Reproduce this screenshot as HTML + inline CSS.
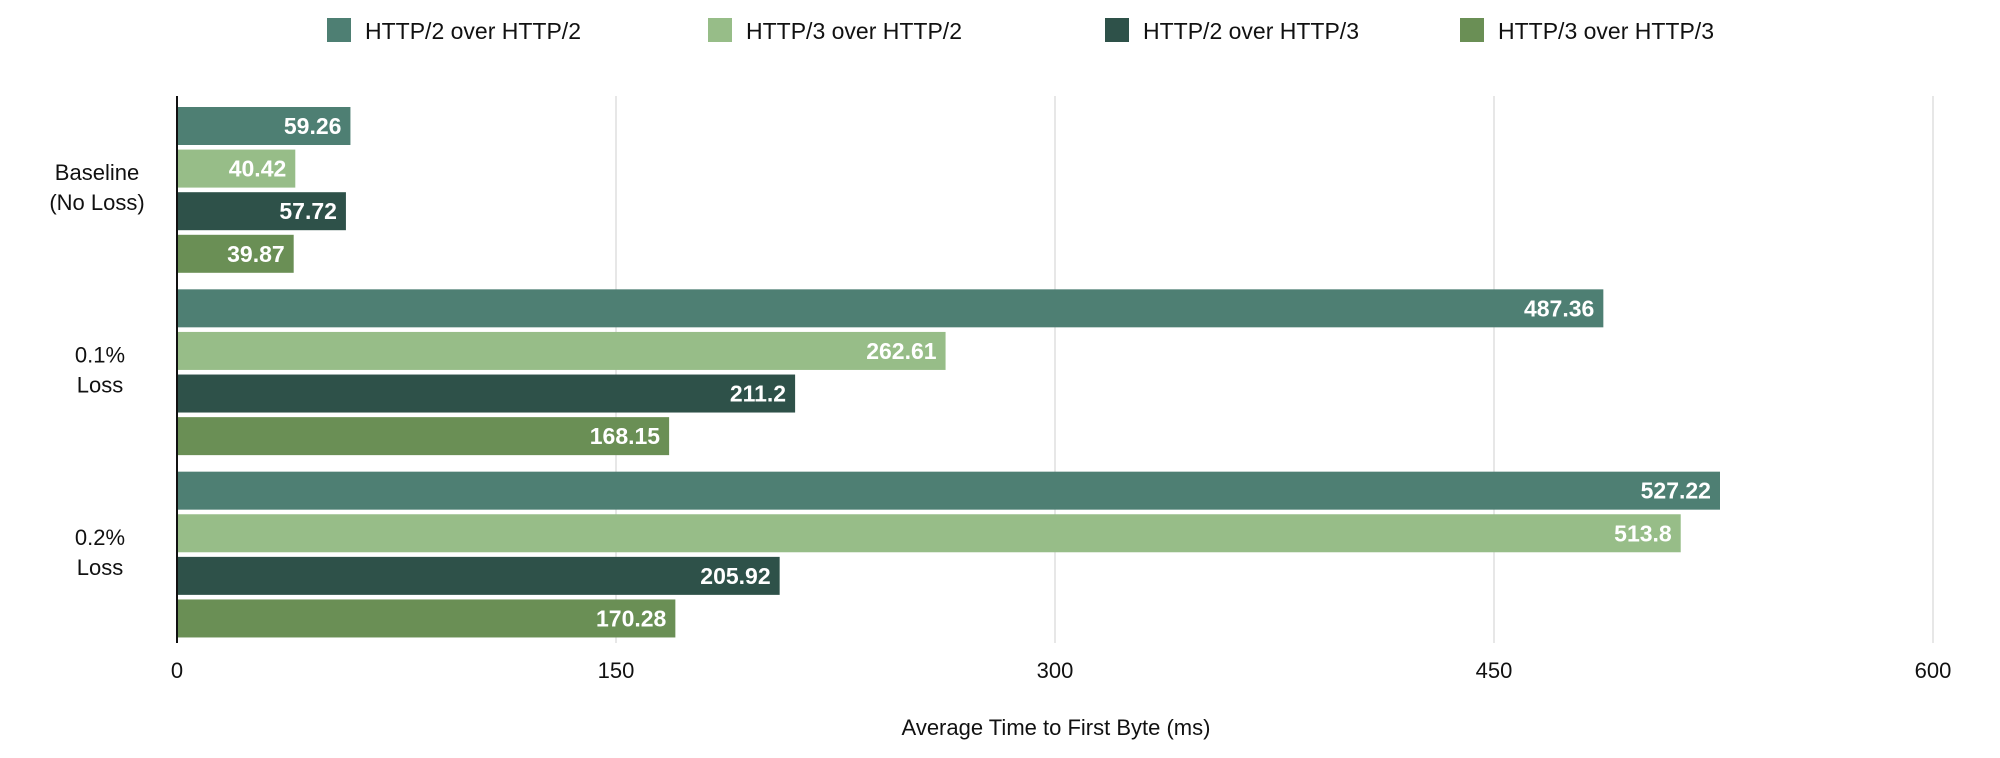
<!DOCTYPE html>
<html><head><meta charset="utf-8"><style>
html,body{margin:0;padding:0;background:#fff;}
svg{display:block;font-family:"Liberation Sans",sans-serif;}
</style></head><body>
<svg id="chart" width="2000" height="758" viewBox="0 0 2000 758"></svg>
<script>
const categories = [["Baseline","(No Loss)"],["0.1%","Loss"],["0.2%","Loss"]];
const seriesNames = ["HTTP/2 over HTTP/2","HTTP/3 over HTTP/2","HTTP/2 over HTTP/3","HTTP/3 over HTTP/3"];
const h2overh2 = [59.26, 487.36, 527.22];
const h3overh2 = [40.42, 262.61, 513.8];
const h2overh3 = [57.72, 211.2, 205.92];
const h3overh3 = [39.87, 168.15, 170.28];
const tickLabels = [0, 150, 300, 450, 600];
const series = [h2overh2, h3overh2, h2overh3, h3overh3];
const colors = ["#4e7f73","#97bd88","#2e5149","#6a8f55"];
const NS = "http://www.w3.org/2000/svg";
const svg = document.getElementById("chart");
const x0 = 177, x1 = 1933, y0 = 96, y1 = 643, xMax = 600;
const xScale = v => x0 + (v / xMax) * (x1 - x0);
const band = (y1 - y0) / categories.length;
const barH = 38, pitch = 42.6, padTop = 11;
function mk(tag, attrs){const e=document.createElementNS(NS,tag);for(const k in attrs)e.setAttribute(k,attrs[k]);svg.appendChild(e);return e;}
// gridlines + ticks
tickLabels.forEach(t=>{
  const x = xScale(t);
  if(t>0){const g=mk("line",{x1:x,x2:x,y1:y0,y2:y1,stroke:"#cfcfcf","stroke-width":1});
  
  }
  const tx=mk("text",{x:x,y:678,"text-anchor":"middle","font-size":22,fill:"#111"});
  tx.textContent=t;
  
  
});
// bars
categories.forEach((c,ci)=>{
  const by = y0 + ci*band + padTop;
  series.forEach((s,si)=>{
    const y = by + si*pitch;
    const w = xScale(s[ci]) - x0;
    const r=mk("rect",{x:x0,y:y,width:w,height:barH,fill:colors[si]});
    
    
    const t=mk("text",{x:x0+w-9,y:y+barH/2+8,"text-anchor":"end","font-size":23,"font-weight":"bold",fill:"#fff"});
    t.textContent=s[ci];
    
    
  });
  const cy = y0 + ci*band + band/2;
  c.forEach((line,li)=>{
    const t=mk("text",{x:ci==0?97:100,y:cy-15+li*30+8,"text-anchor":"middle","font-size":22,fill:"#111"});
    t.textContent=line;
    
    
  });
});
const ax=mk("line",{x1:x0,x2:x0,y1:y0,y2:y1,stroke:"#111","stroke-width":2});


const title=mk("text",{x:1056,y:735,"text-anchor":"middle","font-size":22,fill:"#111"});
title.textContent="Average Time to First Byte (ms)";


// legend
const legX=[327,708,1105,1460];
seriesNames.forEach((n,i)=>{
  const r=mk("rect",{x:legX[i],y:18,width:24,height:24,fill:colors[i]});
  
  
  const t=mk("text",{x:legX[i]+38,y:39,"font-size":23,fill:"#111"});
  t.textContent=n;
  
  
});
</script>
</body></html>
